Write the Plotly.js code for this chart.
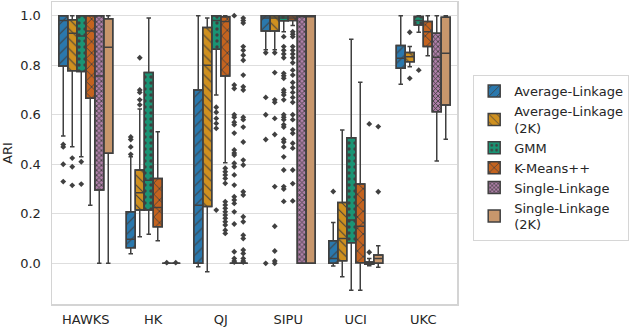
<!DOCTYPE html>
<html>
<head>
<meta charset="utf-8">
<script src="https://cdn.plot.ly/plotly-3.0.1.min.js"></script>
<style>html,body{margin:0;padding:0;background:#fff;}#chart{width:640px;height:328px;}</style>
</head>
<body>
<div id="chart"></div>
<script>
var categories = ['HAWKS', 'HK', 'QJ', 'SIPU', 'UCI', 'UKC'];
var methods = ['Average-Linkage', 'Average-Linkage<br>(2K)', 'GMM', 'K-Means++', 'Single-Linkage', 'Single-Linkage<br>(2K)'];

// Average-Linkage
var al_q1  = [0.797, 0.063, 0.0, 0.938, 0.0, 0.788];
var al_med = [0.98, 0.097, 0.235, 0.99, 0.02, 0.828];
var al_q3  = [1.0, 0.208, 0.70, 1.0, 0.091, 0.879];
var al_lo  = [0.514, 0.039, -0.014, 0.862, -0.011, 0.723];
var al_hi  = [1.0, 0.43, 1.0, 1.0, 0.165, 1.0];
var al_out = [[0.48, 0.47, 0.40, 0.33], [0.51, 0.50, 0.47, 0.44], [], [0.85, 0.67, 0.60, 0.50, 0.0], [0.29], []];

// Average-Linkage (2K)
var al2_q1  = [0.777, 0.215, 0.23, 0.938, 0.011, 0.814];
var al2_med = [0.929, 0.285, 0.80, 0.99, 0.10, 0.834];
var al2_q3  = [0.983, 0.377, 0.952, 1.0, 0.246, 0.851];
var al2_lo  = [0.471, 0.107, -0.034, 0.862, -0.054, 0.794];
var al2_hi  = [1.0, 0.623, 0.99, 1.0, 0.538, 0.875];
var al2_out = [[0.425, 0.39, 0.315], [0.83, 0.70, 0.69, 0.66, 0.64], [], [0.85, 0.77, 0.66, 0.65, 0.585, 0.52, 0.31, 0.15, 0.05, 0.01, 0.0], [], [0.933, 0.747]];

// GMM
var gmm_q1  = [0.774, 0.215, 0.864, 0.979, 0.083, 0.962];
var gmm_med = [0.918, 0.336, 0.98, 0.99, 0.175, 0.98];
var gmm_q3  = [1.0, 0.77, 1.0, 1.0, 0.507, 0.996];
var gmm_lo  = [0.43, 0.118, 0.68, 0.935, -0.108, 0.933];
var gmm_hi  = [1.0, 0.99, 1.0, 1.0, 0.905, 1.0];
var gmm_out = [[0.41, 0.32], [], [0.63, 0.61, 0.585, 0.565, 0.545, 0.215],
  [0.915, 0.875, 0.86, 0.845, 0.83, 0.767, 0.757, 0.747, 0.70, 0.69, 0.68, 0.66, 0.60, 0.59, 0.58, 0.56, 0.55, 0.50, 0.49, 0.47, 0.43, 0.377, 0.31, 0.30, 0.25],
  [], [0.78]];

// K-Means++
var km_q1  = [0.666, 0.148, 0.756, 0.98, 0.003, 0.875];
var km_med = [0.938, 0.226, 0.976, 0.99, 0.15, 0.935];
var km_q3  = [1.0, 0.343, 0.995, 1.0, 0.32, 0.976];
var km_lo  = [0.235, 0.091, 0.406, 0.96, -0.108, 0.838];
var km_hi  = [1.0, 0.531, 1.0, 1.0, 0.731, 1.0];
var km_out = [[], [],
  [0.384, 0.37, 0.357, 0.343, 0.323, 0.249, 0.236, 0.222, 0.208, 0.195, 0.182, 0.168, 0.155, 0.134, 0.121],
  [0.935, 0.925, 0.915, 0.875, 0.86, 0.845, 0.83, 0.81, 0.78, 0.76, 0.73, 0.71, 0.69, 0.67, 0.65, 0.60, 0.58, 0.54, 0.525, 0.485, 0.465, 0.377, 0.322, 0.252],
  [], []];

// Single-Linkage
var sl_q1  = [0.296, 0, 0, 0, -0.004, 0.612];
var sl_med = [0.756, 0, 0, 1.0, 0.0, 0.832];
var sl_q3  = [1.0, 0, 0, 1.0, 0.006, 0.929];
var sl_lo  = [0.0, 0, 0, 0, -0.01, 0.413];
var sl_hi  = [1.0, 0, 0, 1.0, 0.02, 1.0];
var sl_out = [[], [0.003],
  [1.0, 0.72, 0.706, 0.60, 0.59, 0.57, 0.56, 0.526, 0.458, 0.445, 0.437, 0.404, 0.39, 0.357, 0.316, 0.269, 0.256, 0.242, 0.208, 0.159, 0.047, 0.02, 0.01, 0.005],
  [], [0.563, 0.045], []];

// Single-Linkage (2K)
var sl2_q1  = [0.444, 0, 0, 0, 0.0, 0.639];
var sl2_med = [0.872, 0, 0, 1.0, 0.02, 0.848];
var sl2_q3  = [0.987, 0, 0, 1.0, 0.034, 0.993];
var sl2_lo  = [0.0, 0, 0, 0, -0.016, 0.501];
var sl2_hi  = [1.0, 0, 0, 1.0, 0.071, 1.0];
var sl2_out = [[], [0.003],
  [0.99, 0.98, 0.97, 0.875, 0.86, 0.84, 0.82, 0.76, 0.713, 0.70, 0.59, 0.58, 0.55, 0.49, 0.417, 0.397, 0.289, 0.276, 0.188, 0.168, 0.114, 0.10, 0.054, 0.04, 0.02, 0.01, 0.005],
  [], [0.552, 0.289], []];

var stats = [
  [al_q1, al_med, al_q3, al_lo, al_hi, al_out],
  [al2_q1, al2_med, al2_q3, al2_lo, al2_hi, al2_out],
  [gmm_q1, gmm_med, gmm_q3, gmm_lo, gmm_hi, gmm_out],
  [km_q1, km_med, km_q3, km_lo, km_hi, km_out],
  [sl_q1, sl_med, sl_q3, sl_lo, sl_hi, sl_out],
  [sl2_q1, sl2_med, sl2_q3, sl2_lo, sl2_hi, sl2_out]
];

var colors = ['#2a78ad', '#cf901f', '#1a9474', '#c4631f', '#b07fa9', '#c8976c'];
var patterns = [
  {shape: '/', size: 7, solidity: 0.15},
  {shape: '\\', size: 7, solidity: 0.15},
  {shape: '.', size: 6, solidity: 0.25},
  {shape: 'x', size: 8, solidity: 0.2},
  {shape: 'x', size: 3.5, solidity: 0.45},
  {shape: '', size: 8, solidity: 0.2}
];
var edge = '#404040';

// group layout: 6 hues share 80% of each category slot
var nHue = methods.length;
var boxW = 0.8 / nHue;
var catIdx = categories.map(function (c, k) { return k; });

var data = [];
methods.forEach(function (m, i) {
  var s = stats[i];
  var xs = catIdx.map(function (k) { return k + (i - (nHue - 1) / 2) * boxW; });
  var heights = s[2].map(function (v, k) { return v - s[0][k]; });
  var pat = patterns[i];
  data.push({
    type: 'bar', name: m, x: xs, base: s[0], y: heights, width: boxW,
    marker: {
      color: colors[i],
      line: {color: edge, width: 1.5},
      pattern: {shape: pat.shape, size: pat.size, solidity: pat.solidity, fgcolor: edge, bgcolor: colors[i], fillmode: 'replace'}
    },
    hoverinfo: 'skip', showlegend: true
  });
});
methods.forEach(function (m, i) {
  var s = stats[i];
  var xs = catIdx.map(function (k) { return k + (i - (nHue - 1) / 2) * boxW; });
  // sample per box: the median (inside the box, never drawn) plus the outliers
  var samples = s[5].map(function (o, k) { return [s[1][k]].concat(o); });
  data.push({
    type: 'box', name: m, x: xs, y: samples, width: boxW,
    q1: s[0], median: s[1], q3: s[2], lowerfence: s[3], upperfence: s[4],
    boxpoints: 'outliers', jitter: 0, pointpos: 0,
    fillcolor: 'rgba(0,0,0,0)',
    line: {color: edge, width: 1.5},
    whiskerwidth: 0.5,
    marker: {symbol: 'diamond', size: 4.5, color: edge, line: {width: 0}},
    showlegend: false
  });
});

var layout = {
  width: 640, height: 328,
  margin: {l: 52, r: 183, t: 2, b: 24},
  paper_bgcolor: '#ffffff', plot_bgcolor: '#ffffff',
  font: {family: 'DejaVu Sans, sans-serif', size: 13, color: '#262626'},
  barmode: 'overlay', boxmode: 'overlay',
  showlegend: true,
  legend: {
    x: 1.04, y: 0.758, xanchor: 'left', yanchor: 'top',
    bgcolor: '#ffffff', bordercolor: '#d6d6d6', borderwidth: 1,
    font: {size: 13, color: '#262626'}, traceorder: 'normal', tracegroupgap: 0,
    itemwidth: 30
  },
  xaxis: {
    range: [-0.5, 5.5],
    tickvals: catIdx, ticktext: categories,
    showgrid: false, zeroline: false,
    showline: true, mirror: true, linecolor: '#d4d4d4', linewidth: 1.5,
    ticks: 'outside', ticklen: 3, tickcolor: 'rgba(0,0,0,0)',
    tickfont: {size: 13}
  },
  yaxis: {
    range: [-0.164, 1.055],
    tickvals: [0, 0.2, 0.4, 0.6, 0.8, 1.0], tickformat: '.1f',
    showgrid: true, gridcolor: '#dedede', gridwidth: 1, zeroline: false,
    showline: true, mirror: true, linecolor: '#d4d4d4', linewidth: 1.5,
    ticks: 'outside', ticklen: 7, tickcolor: 'rgba(0,0,0,0)',
    tickfont: {size: 13},
    title: {text: 'ARI', font: {size: 13}, standoff: 4}
  }
};

Plotly.newPlot('chart', data, layout, {displayModeBar: false, staticPlot: true});
</script>
</body>
</html>
